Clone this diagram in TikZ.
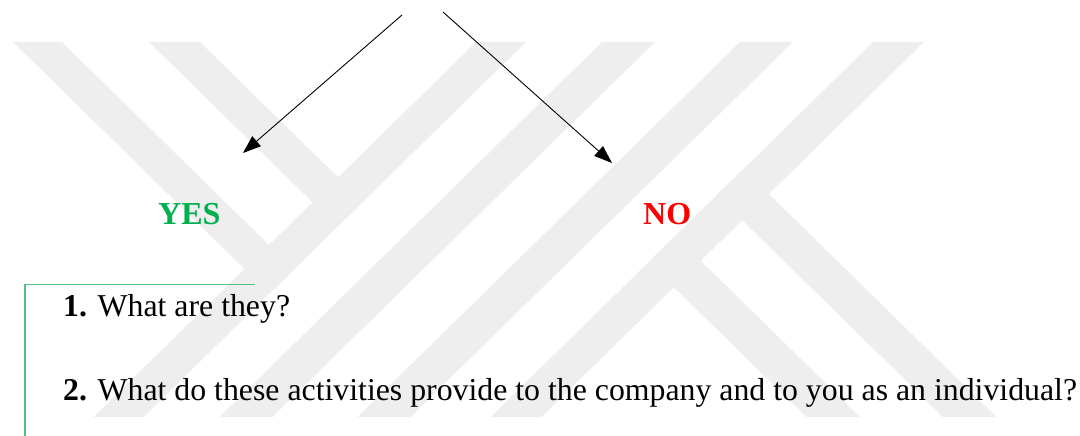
\documentclass[tikz,border=0pt]{standalone}
\usepackage{fontspec}
\setmainfont{Liberation Serif}
\usetikzlibrary{arrows.meta}
\definecolor{wm}{RGB}{238,238,238}
\definecolor{yesgreen}{RGB}{0,176,80}
\definecolor{nored}{RGB}{255,0,0}
\definecolor{boxgreen}{RGB}{80,195,130}
\begin{document}
\begin{tikzpicture}[x=1pt,y=-1pt,
  wmark/.style={fill=wm,draw=none},
  arr/.style={draw=black,line width=0.9pt,-{Triangle[length=18pt,width=13pt]}},
  txt/.style={anchor=base west,inner sep=0pt,font=\fontsize{31.8}{38}\selectfont},
  lbl/.style={anchor=base west,inner sep=0pt,font=\fontsize{32}{38}\selectfont\bfseries},
  boxline/.style={draw=boxgreen,line width=1.2pt}]
\useasboundingbox (0,0) rectangle (1080,436);
% watermark
\fill[wmark] (13,42) -- (62,42) -- (294,269.5) -- (269.5,293.5) -- cycle;
\fill[wmark] (149,42) -- (200,42) -- (363,201.8) -- (337.5,226.8) -- cycle;
\fill[wmark] (476,42) -- (526,42) -- (143.5,417) -- (93.5,417) -- cycle;
\fill[wmark] (602,42) -- (655,42) -- (272.5,417) -- (219.5,417) -- cycle;
\fill[wmark] (740,42) -- (793,42) -- (410.5,417) -- (357.5,417) -- cycle;
\fill[wmark] (873,42) -- (924,42) -- (541.5,417) -- (490.5,417) -- cycle;
\fill[wmark] (743.5,169) -- (996.4,417) -- (943,417) -- (716.7,195.2) -- cycle;
\fill[wmark] (675.3,235.8) -- (860.1,417) -- (806.3,417) -- (648.4,262.2) -- cycle;
% arrows
\coordinate (s1) at (402,15);
\coordinate (e1) at (243,153);
\coordinate (s2) at (443,12);
\coordinate (e2) at (612,163);
\draw[arr] (s1) -- (e1);
\draw[arr] (s2) -- (e2);
% labels
\node[lbl,text=yesgreen] (yes) at (158,224) {YES};
\node[lbl,text=nored] (no) at (643,224) {NO};
% bracket
\coordinate (b1) at (25,436);
\coordinate (b2) at (25,284.5);
\coordinate (b3) at (255,284.5);
\draw[boxline] (b1) -- (b2) -- (b3);
% questions
\node[txt] (q1) at (63,316) {\textbf{1.} What are they?};
\node[txt] (q2) at (63,400) {\textbf{2.} What do these activities provide to the company and to you as an individual?};
\end{tikzpicture}
\end{document}
